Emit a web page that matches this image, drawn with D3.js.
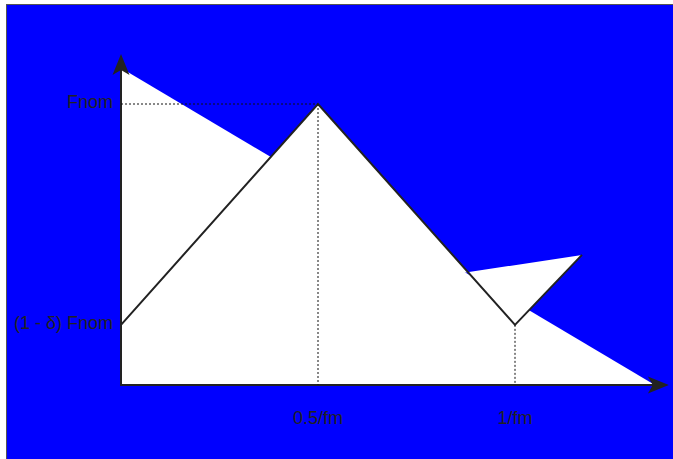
<!DOCTYPE html>
<html>
<head>
<meta charset="utf-8">
<script src="https://cdn.jsdelivr.net/npm/d3@7"></script>
<style>
  body { margin: 0; background: #fff; }
  svg { display: block; }
</style>
</head>
<body>
<div id="chart"></div>
<script>
// frequency points (in units of fm) and force levels (in units of Fnom)
var freqs = [0, 0.5, 1, 1.17];
var forces = [0.214, 1, 0.214, 0.463];
var xTickValues = [0.5, 1];
var xTickLabels = ["0.5/fm", "1/fm"];
var yTickValues = [0.214, 1];
var yTickLabels = ["(1 - δ) Fnom", "Fnom"];
var axisMax = [1.355, 1.128];

var width = 673;
var height = 459;

var x = d3.scaleLinear().domain([0, 1]).range([121, 515]);
var y = d3.scaleLinear().domain([0, 1]).range([385, 104]);

var svg = d3.select("#chart").append("svg")
  .attr("width", width)
  .attr("height", height);

svg.append("rect")
  .attr("x", 6.5)
  .attr("y", 4.5)
  .attr("width", 720)
  .attr("height", 520)
  .attr("fill", "#0000ff")
  .attr("stroke", "#555")
  .attr("stroke-width", 1);

svg.append("defs").append("marker")
  .attr("id", "arrow")
  .attr("markerUnits", "userSpaceOnUse")
  .attr("viewBox", "-10 -10 30 20")
  .attr("refX", 0)
  .attr("refY", 0)
  .attr("markerWidth", 30)
  .attr("markerHeight", 20)
  .attr("orient", "auto-start-reverse")
  .append("path")
  .attr("d", "M14,0 L-7,-8.5 L-2,0 L-7,8.5 Z")
  .attr("fill", "#222");

var line = d3.line()
  .x(function (d) { return x(d[0]); })
  .y(function (d) { return y(d[1]); });

// axes drawn as one open path, filled white like the original
var axisPts = [[0, axisMax[1]], [0, 0], [axisMax[0], 0]];
svg.append("path")
  .attr("d", line(axisPts))
  .attr("fill", "#fff")
  .attr("stroke", "#222")
  .attr("stroke-width", 2)
  .attr("marker-start", "url(#arrow)")
  .attr("marker-end", "url(#arrow)");

var pts = freqs.map(function (f, i) { return [f, forces[i]]; });
svg.append("path")
  .attr("d", line(pts))
  .attr("fill", "#fff")
  .attr("stroke", "#222")
  .attr("stroke-width", 2);

// dotted guides
var guides = [
  [[0, forces[1]], [freqs[1], forces[1]]],
  [[freqs[1], forces[1]], [freqs[1], 0]],
  [[freqs[2], forces[2]], [freqs[2], 0]]
];
svg.selectAll(".guide")
  .data(guides)
  .enter().append("path")
  .attr("class", "guide")
  .attr("d", line)
  .attr("fill", "none")
  .attr("stroke", "#111")
  .attr("stroke-width", 1)
  .attr("stroke-dasharray", "2,2");

svg.selectAll(".xlab")
  .data(xTickValues)
  .enter().append("text")
  .attr("class", "xlab")
  .attr("x", function (d) { return x(d); })
  .attr("y", y(0) + 39)
  .attr("text-anchor", "middle")
  .style("font-family", "'Liberation Sans', Arial, sans-serif")
  .style("font-size", "18px")
  .style("fill", "#222")
  .text(function (d, i) { return xTickLabels[i]; });

svg.selectAll(".ylab")
  .data(yTickValues)
  .enter().append("text")
  .attr("class", "ylab")
  .attr("x", x(0) - 8)
  .attr("y", function (d) { return y(d) + 4; })
  .attr("text-anchor", "end")
  .style("font-family", "'Liberation Sans', Arial, sans-serif")
  .style("font-size", "18px")
  .style("fill", "#222")
  .text(function (d, i) { return yTickLabels[i]; });
</script>
</body>
</html>
